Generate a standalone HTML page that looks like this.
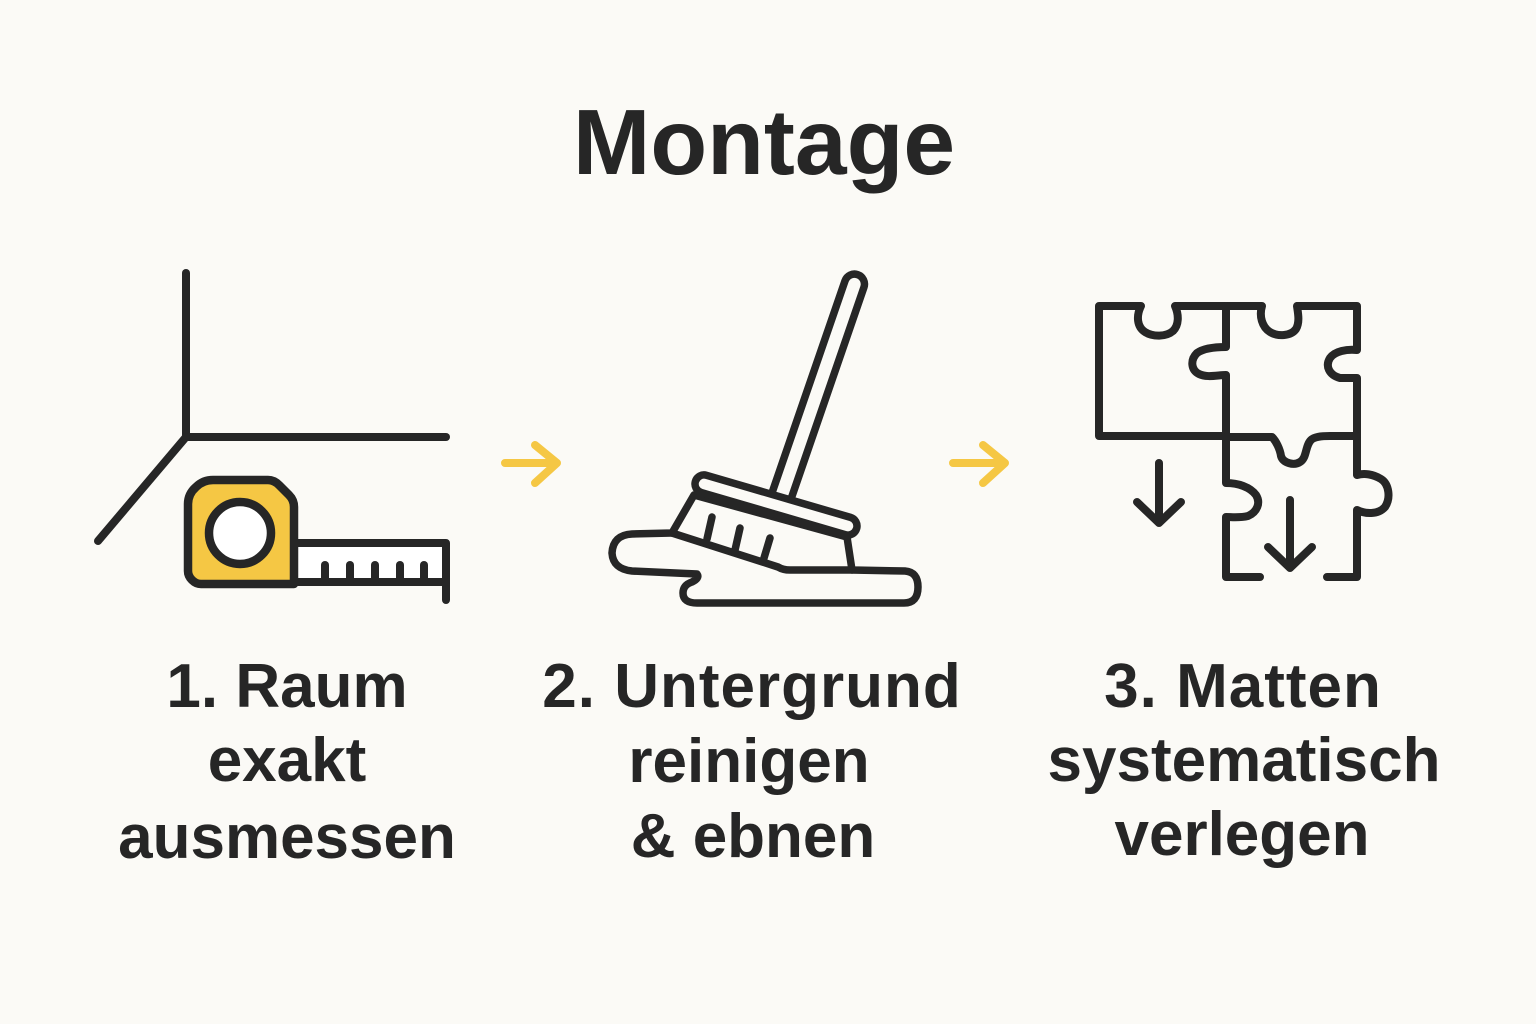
<!DOCTYPE html>
<html>
<head>
<meta charset="utf-8">
<style>
html,body{margin:0;padding:0;background:#fbfaf6;}
svg{display:block;}
text{font-family:"Liberation Sans",Arial,sans-serif;font-weight:bold;fill:#262626;}
</style>
</head>
<body>
<svg width="1536" height="1024" viewBox="0 0 1536 1024" xmlns="http://www.w3.org/2000/svg">
<rect width="1536" height="1024" fill="#fbfaf6"/>

<!-- Title -->
<text x="764" y="174" font-size="93" text-anchor="middle">Montage</text>

<g fill="none" stroke="#262626" stroke-width="8" stroke-linecap="round" stroke-linejoin="round">
  <!-- Icon 1: room corner -->
  <line x1="186" y1="273" x2="186" y2="437"/>
  <line x1="186" y1="437" x2="446" y2="437"/>
  <line x1="186" y1="437" x2="98" y2="541"/>

  <!-- tape strip -->
  <rect x="294" y="543" width="152" height="38" fill="#ffffff" stroke="none"/>
  <path d="M294,543 L446,543 L446,600"/>
  <line x1="294" y1="582" x2="446" y2="582"/>
  <line x1="325" y1="565" x2="325" y2="581"/>
  <line x1="350" y1="565" x2="350" y2="581"/>
  <line x1="375" y1="565" x2="375" y2="581"/>
  <line x1="400" y1="565" x2="400" y2="581"/>
  <line x1="424" y1="565" x2="424" y2="581"/>

  <!-- tape body -->
  <path d="M188,504 Q188,494 196,487 Q203,480 213,480 L268,480 Q274,480 279,485 L289,495 Q294,500 294,507 L294,584 L201,584 Q196,584 192,580 Q188,576 188,571 Z" fill="#f5c744" stroke-width="8.5"/>
  <circle cx="240" cy="533" r="31" fill="#ffffff" stroke-width="8.5"/>

  <!-- Icon 2: broom -->
  <!-- handle -->
  <rect x="-10" y="-122" width="20" height="244" rx="10" transform="translate(818,390) rotate(19)" fill="#fbfaf6" stroke-width="7.5"/>
  <!-- puddle + brush body -->
  <path d="M672,533 L694,495 L847,537 L852,570 L905,571 Q918,572 918,587 Q918,603 904,603 L697,603 Q683,603 683,593 Q683,585 692,582 Q700,578 697,574 L632,571 Q613,569 612,553 Q613,535 632,534 Z" fill="#fbfaf6" stroke-width="7.5"/>
  <path d="M672,533 L778,567 Q783,570 790,570 L852,570" stroke-width="7.5"/>
  <!-- bristles -->
  <line x1="712" y1="517" x2="707" y2="539" stroke-width="7.5"/>
  <line x1="740" y1="528" x2="735" y2="550" stroke-width="7.5"/>
  <line x1="770" y1="538" x2="764" y2="558" stroke-width="7.5"/>
  <!-- top bar -->
  <rect x="-84" y="-9" width="168" height="18" rx="9" transform="translate(776,505) rotate(16.3)" fill="#fbfaf6" stroke-width="7.5"/>

  <!-- Icon 3: puzzle -->
  <path d="M1226,436 L1099,436 L1099,306 L1141,306 C1136,316 1137,327 1145,332 C1153,337 1166,337 1173,331 C1179,325 1179,315 1175,306 L1262,306 C1259,316 1262,327 1270,332 C1278,337 1291,336 1296,329 C1300,322 1298,313 1297,306 L1357,306 L1357,350 C1347,349 1335,351 1330,358 C1325,366 1329,375 1340,378 L1357,378 L1357,436"/>
  <path d="M1226,306 L1226,347 C1216,347 1204,348 1197,353 C1190,360 1191,370 1199,374 C1207,378 1218,375 1226,375 L1226,483 C1238,483 1250,487 1256,495 C1261,503 1257,512 1248,516 C1240,518 1232,517 1226,517 L1226,577 L1260,577"/>
  <path d="M1327,577 L1357,577 L1357,510 C1365,514 1378,515 1385,507 C1391,498 1389,484 1381,479 C1373,474 1364,473 1357,475 L1357,436"/>
  <path d="M1226,437 L1272,437 C1276,441 1280,449 1281,456 C1283,463 1294,466 1300,462 C1307,458 1305,446 1311,440 C1314,437 1320,436 1330,436 L1357,436"/>
  <!-- arrows -->
  <path d="M1159,463 L1159,523 M1137,502 L1159,523 L1181,502"/>
  <path d="M1290,500 L1290,568 M1268,547 L1290,568 L1312,547"/>
</g>

<!-- yellow arrows -->
<g fill="none" stroke="#f5c744" stroke-width="8" stroke-linecap="round" stroke-linejoin="round">
  <path d="M505,463 L557,463 M535,445 L557,463 L535,483"/>
  <path d="M953,463 L1005,463 M983,445 L1005,463 L983,483"/>
</g>

<!-- Labels -->
<g font-size="62" text-anchor="middle">
  <text x="287" y="707">1. Raum</text>
  <text x="287" y="781">exakt</text>
  <text x="287" y="858">ausmessen</text>

  <text x="752" y="707" letter-spacing="1">2. Untergrund</text>
  <text x="749" y="782">reinigen</text>
  <text x="753" y="857">&amp; ebnen</text>

  <text x="1243" y="707" letter-spacing="1">3. Matten</text>
  <text x="1244" y="781">systematisch</text>
  <text x="1242" y="855">verlegen</text>
</g>
</svg>
</body>
</html>
